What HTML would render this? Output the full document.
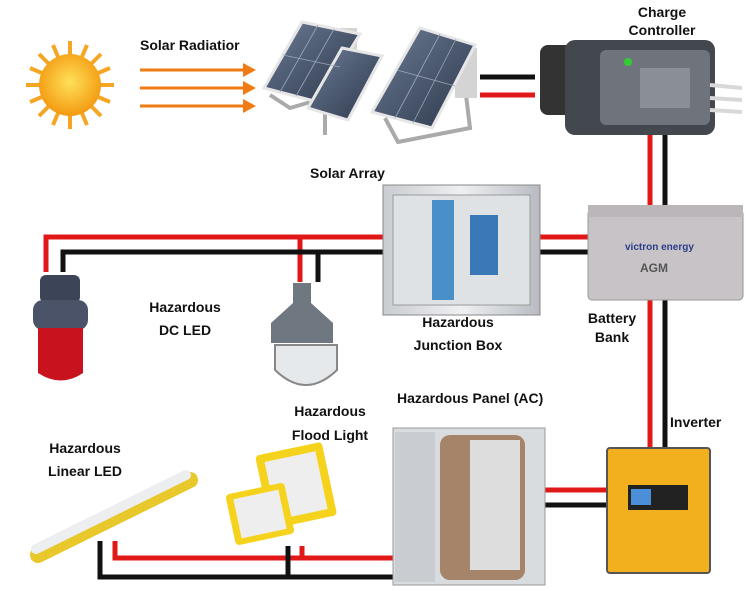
<!DOCTYPE html>
<html><head><meta charset="utf-8"><style>
html,body{margin:0;padding:0;background:#fff;}
svg{display:block;}
text{font-family:"Liberation Sans",sans-serif;font-weight:bold;fill:#111;font-size:14px;}
</style></head><body>
<svg width="750" height="591" viewBox="0 0 750 591" xmlns="http://www.w3.org/2000/svg">
<defs>
<radialGradient id="sun" cx="50%" cy="45%" r="55%"><stop offset="0" stop-color="#ffe05a"/><stop offset="1" stop-color="#f39a10"/></radialGradient>
<linearGradient id="pan" x1="0" y1="0" x2="1" y2="1"><stop offset="0" stop-color="#6d7d96"/><stop offset="1" stop-color="#2b364a"/></linearGradient>
<linearGradient id="box" x1="0" y1="0" x2="1" y2="0"><stop offset="0" stop-color="#c9ccd0"/><stop offset="0.5" stop-color="#eef0f2"/><stop offset="1" stop-color="#b8bcc1"/></linearGradient>
</defs>
<!-- wires -->
<g fill="none" stroke-width="5">
<path d="M480 77 H535" stroke="#111"/><path d="M480 95 H535" stroke="#e01818"/>
<path d="M650 135 V208 M650 300 V448" stroke="#e01818"/><path d="M665 135 V208 M665 300 V448" stroke="#111"/>
<path d="M540 237 H588" stroke="#e01818"/><path d="M540 252 H588" stroke="#111"/>
<path d="M46 272 V237 H388 M300 237 V282" stroke="#e01818"/>
<path d="M63 272 V252 H388 M318 252 V282" stroke="#111"/>
<path d="M545 490 H607" stroke="#e01818"/><path d="M545 505 H607" stroke="#111"/>
<path d="M115 541 V558 H395 M302 546 V558" stroke="#e01818"/>
<path d="M100 541 V577 H395 M288 546 V577" stroke="#111"/>
</g>
<!-- sun -->
<g stroke="#f5a623" stroke-width="4" transform="translate(70 85)">
<line x1="0" y1="-44" x2="0" y2="44"/><line x1="-44" y1="0" x2="44" y2="0"/>
<line x1="-31" y1="-31" x2="31" y2="31"/><line x1="31" y1="-31" x2="-31" y2="31"/>
<line x1="-17" y1="-40" x2="17" y2="40"/><line x1="17" y1="-40" x2="-17" y2="40"/>
<line x1="-40" y1="-17" x2="40" y2="17"/><line x1="40" y1="-17" x2="-40" y2="17"/>
</g>
<circle cx="70" cy="85" r="31" fill="url(#sun)"/>
<!-- arrows -->
<g stroke="#f07a14" stroke-width="3" fill="#f07a14">
<line x1="140" y1="70" x2="245" y2="70"/><polygon points="243,63 256,70 243,77" stroke="none"/>
<line x1="140" y1="88" x2="245" y2="88"/><polygon points="243,81 256,88 243,95" stroke="none"/>
<line x1="140" y1="106" x2="245" y2="106"/><polygon points="243,99 256,106 243,113" stroke="none"/>
</g>
<text x="140" y="50">Solar Radiatior</text>
<!-- panels -->
<path d="M270 95 L290 108 L345 92 M325 108 V135 M385 118 L398 142 L470 128 L462 62" fill="none" stroke="#aaa" stroke-width="4"/>
<rect x="335" y="28" width="22" height="40" fill="#d4d4d4"/>
<rect x="455" y="48" width="22" height="50" fill="#d4d4d4"/>
<g stroke="#e6e6e6" stroke-width="3">
<polygon points="302,22 360,34 318,102 264,88" fill="url(#pan)"/>
<polygon points="342,48 382,56 348,120 308,108" fill="url(#pan)"/>
<polygon points="420,28 475,45 432,128 372,112" fill="url(#pan)"/>
</g>
<g stroke="#9aa6b8" stroke-width="0.8">
<line x1="318" y1="25" x2="280" y2="92"/><line x1="334" y1="29" x2="296" y2="96"/><line x1="283" y1="55" x2="340" y2="67"/>
<line x1="440" y1="34" x2="395" y2="118"/><line x1="456" y1="39" x2="413" y2="123"/><line x1="397" y1="70" x2="455" y2="86"/>
</g>
<!-- charge controller -->
<text x="662" y="17" text-anchor="middle">Charge</text>
<text x="662" y="35" text-anchor="middle">Controller</text>
<rect x="540" y="45" width="40" height="70" rx="8" fill="#333"/>
<rect x="565" y="40" width="150" height="95" rx="10" fill="#43484f"/>
<rect x="600" y="50" width="110" height="75" rx="6" fill="#6f747c"/>
<circle cx="628" cy="62" r="4" fill="#3c3"/>
<rect x="640" y="68" width="50" height="40" fill="#8a8f96"/>
<g stroke="#d8d8d8" stroke-width="4"><line x1="710" y1="85" x2="742" y2="88"/><line x1="710" y1="98" x2="742" y2="100"/><line x1="710" y1="110" x2="742" y2="112"/></g>
<!-- junction box -->
<rect x="383" y="185" width="157" height="130" fill="url(#box)" stroke="#888"/>
<rect x="393" y="195" width="137" height="110" fill="#dfe2e5" stroke="#999"/>
<rect x="432" y="200" width="22" height="100" fill="#4a90c8"/>
<rect x="470" y="215" width="28" height="60" fill="#3a78b8"/>
<text x="310" y="178">Solar Array</text>
<!-- battery -->
<rect x="588" y="210" width="155" height="90" rx="4" fill="#c7c3c6" stroke="#999"/>
<rect x="588" y="205" width="155" height="12" fill="#bbb6b9"/>
<text x="625" y="250" style="font-size:10px;fill:#2c3e8a">victron energy</text>
<text x="640" y="272" style="font-size:12px;fill:#555">AGM</text>
<!-- lamps -->
<rect x="40" y="275" width="40" height="28" rx="6" fill="#3c4558"/>
<rect x="33" y="300" width="55" height="30" rx="10" fill="#4a5368"/>
<path d="M38 328 h45 v45 q-22 15 -45 0z" fill="#c8121e"/>
<path d="M293 283 h18 v20 l22 20 v20 h-62 v-20 l22-20z" fill="#6f7780"/>
<path d="M275 345 h62 v25 q-31 30 -62 0z" fill="#e6e9ec" stroke="#888" stroke-width="2"/>
<text x="185" y="312" text-anchor="middle">Hazardous</text>
<text x="185" y="335" text-anchor="middle">DC LED</text>
<text x="458" y="327" text-anchor="middle">Hazardous</text>
<text x="458" y="350" text-anchor="middle">Junction Box</text>
<text x="612" y="323" text-anchor="middle">Battery</text>
<text x="612" y="342" text-anchor="middle">Bank</text>
<text x="670" y="427">Inverter</text>
<text x="397" y="403">Hazardous Panel (AC)</text>
<text x="330" y="416" text-anchor="middle">Hazardous</text>
<text x="330" y="440" text-anchor="middle">Flood Light</text>
<text x="85" y="453" text-anchor="middle">Hazardous</text>
<text x="85" y="476" text-anchor="middle">Linear LED</text>
<!-- inverter -->
<rect x="607" y="448" width="103" height="125" rx="3" fill="#f2b01e" stroke="#555" stroke-width="2"/>
<rect x="628" y="485" width="60" height="25" fill="#222"/><rect x="631" y="489" width="20" height="16" fill="#4a8fd8"/>
<!-- panel AC -->
<rect x="393" y="428" width="152" height="157" fill="#d9dcdf" stroke="#999"/>
<rect x="440" y="435" width="85" height="145" rx="10" fill="#a5846a"/>
<rect x="470" y="440" width="50" height="130" fill="#ddd"/>
<rect x="395" y="432" width="40" height="150" fill="#c9ccd0"/>
<!-- flood lights -->
<rect x="262" y="448" width="68" height="75" rx="4" fill="#f5d21c" transform="rotate(-12 296 485)"/>
<rect x="270" y="456" width="52" height="59" fill="#eee" transform="rotate(-12 296 485)"/>
<rect x="230" y="488" width="60" height="52" rx="4" fill="#f5d21c" transform="rotate(-12 260 514)"/>
<rect x="237" y="494" width="46" height="40" fill="#eee" transform="rotate(-12 260 514)"/>
<!-- linear LED -->
<line x1="38" y1="555" x2="190" y2="480" stroke="#e8c82a" stroke-width="16" stroke-linecap="round"/>
<line x1="36" y1="549" x2="186" y2="475" stroke="#eceeef" stroke-width="10" stroke-linecap="round"/>
</svg>
</body></html>
